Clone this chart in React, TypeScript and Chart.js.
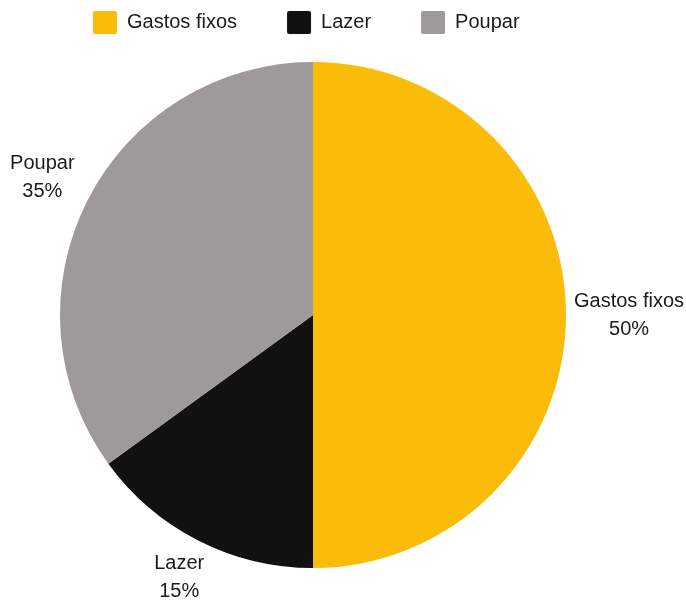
import { useEffect, useRef } from 'react';
import { Chart, registerables } from 'chart.js';

Chart.register(...registerables);

const categories = ['Gastos fixos', 'Lazer', 'Poupar'];
const values = [50, 15, 35];
const colors = ['#FBBC09', '#111111', '#9E9A99'];

const FONT = '"Liberation Sans", Arial, sans-serif';

const outerLabels = {
  id: 'outerLabels',
  afterDatasetsDraw(chart: any) {
    const ctx = chart.ctx as CanvasRenderingContext2D;
    const meta = chart.getDatasetMeta(0);
    const total = values.reduce((a, b) => a + b, 0);
    ctx.save();
    ctx.font = `20px ${FONT}`;
    ctx.fillStyle = '#1a1a1a';
    ctx.textAlign = 'center';
    ctx.textBaseline = 'middle';
    const lh = 28;
    const gap = 8;
    meta.data.forEach((arc: any, i: number) => {
      const p = arc.getProps(['x', 'y', 'startAngle', 'endAngle', 'outerRadius'], true);
      const mid = (p.startAngle + p.endAngle) / 2;
      const dx = Math.cos(mid);
      const dy = Math.sin(mid);
      const lines = [categories[i], Math.round((values[i] / total) * 100) + '%'];
      const w = Math.max(...lines.map((t) => ctx.measureText(t).width));
      const h = 46;
      const extra = dx < 0 ? 4 : 0;
      const d = p.outerRadius + gap + Math.abs(dx) * (w / 2 + extra) + Math.abs(dy) * h / 2;
      const cx = p.x + dx * d;
      const cy = p.y + dy * d;
      ctx.fillText(lines[0], cx, cy - lh / 2);
      ctx.fillText(lines[1], cx, cy + lh / 2);
    });
    ctx.restore();
  },
};

export default function App() {
  const ref = useRef<HTMLCanvasElement>(null);
  useEffect(() => {
    if (!ref.current) return;
    const chart = new Chart(ref.current, {
      type: 'pie',
      data: {
        labels: categories,
        datasets: [
          {
            data: values,
            backgroundColor: colors,
            borderWidth: 0,
            hoverOffset: 0,
            offset: 0,
            radius: 253,
          },
        ],
      },
      options: {
        responsive: false,
        animation: false,
        layout: { padding: { left: 43, right: 103, top: -39, bottom: 16 } },
        plugins: {
          legend: {
            position: 'top',
            align: 'start',
            labels: {
              boxWidth: 24,
              boxHeight: 23,
              padding: 50,
              color: '#1a1a1a',
              font: { size: 20, family: FONT },
              useBorderRadius: true,
              borderRadius: 2,
            },
          },
          tooltip: { enabled: false },
        },
      },
      plugins: [outerLabels],
    });
    return () => chart.destroy();
  }, []);
  return (
    <div style={{ position: 'fixed', left: 0, top: 0, width: 686, height: 602, background: '#fff' }}>
      <canvas ref={ref} width={686} height={602} style={{ display: 'block' }} />
    </div>
  );
}
